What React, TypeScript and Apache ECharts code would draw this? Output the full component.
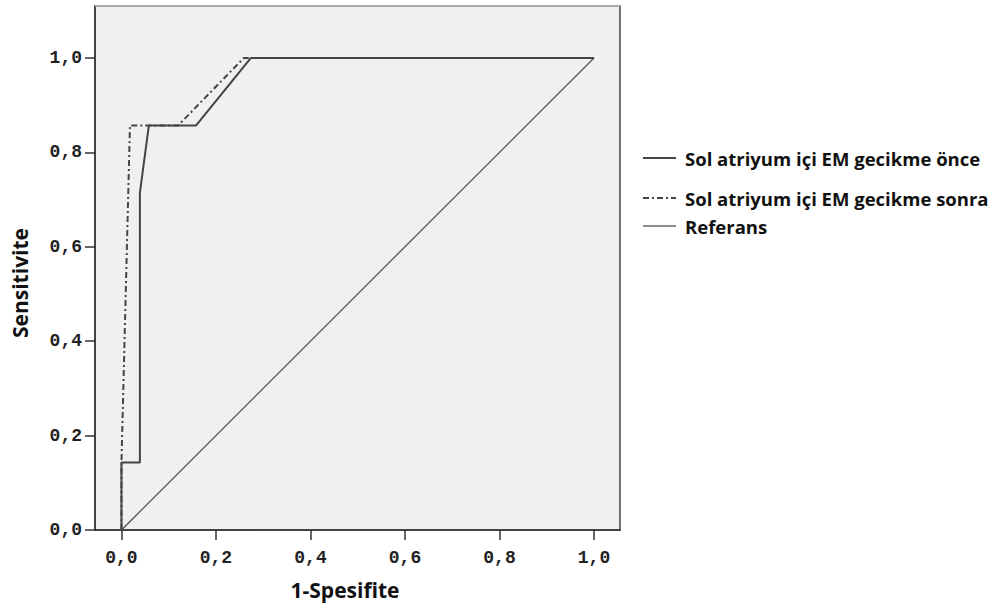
import React, { useEffect, useRef } from "react";
import * as echarts from "echarts";

const tickValues = [0, 0.2, 0.4, 0.6, 0.8, 1.0];
const onceX = [0, 0, 0.039, 0.039, 0.058, 0.158, 0.274, 1.0];
const onceY = [0, 0.143, 0.143, 0.714, 0.857, 0.857, 1.0, 1.0];
const sonraX = [0, 0, 0.018, 0.12, 0.259, 1.0];
const sonraY = [0, 0.143, 0.857, 0.857, 1.0, 1.0];
const refX = [0, 1];
const refY = [0, 1];
const seriesNames = ["Sol atriyum içi EM gecikme önce", "Sol atriyum içi EM gecikme sonra", "Referans"];
const xTitle = "1-Spesifite";
const yTitle = "Sensitivite";

const zip = (xs: number[], ys: number[]) => xs.map((x, i) => [x, ys[i]]);
const fmt = (v: number) => v.toFixed(1).replace(".", ",");

export default function App() {
  const ref = useRef<HTMLDivElement>(null);
  useEffect(() => {
    const chart = echarts.init(ref.current!, null, { renderer: "svg" });
    const labelStyle = {
      fontFamily: "Liberation Mono",
      fontWeight: "bold" as const,
      fontSize: 18,
      color: "#222",
    };
    const legendFont = { fontFamily: "Open Sans", fontWeight: "bold", fontSize: 18.5, fill: "#111" };
    const titleFont = { fontFamily: "Open Sans", fontWeight: "bold", fontSize: 21, fill: "#111" };
    const dash = [6, 3, 2, 3];
    chart.setOption({
      animation: false,
      grid: {
        left: 95,
        top: 6,
        width: 525,
        height: 524,
        show: true,
        backgroundColor: "#f0f0f0",
        borderColor: "#444",
        borderWidth: 1.5,
      },
      xAxis: {
        type: "value",
        min: -0.056,
        max: 1.055,
        splitLine: { show: false },
        axisLine: { show: true, onZero: false, lineStyle: { color: "#333", width: 1.5 } },
        axisTick: { show: true, length: 10, customValues: tickValues, lineStyle: { color: "#333", width: 1.5 } },
        axisLabel: { ...labelStyle, margin: 19, customValues: tickValues, formatter: fmt },
      },
      yAxis: {
        type: "value",
        min: 0,
        max: 1.11,
        splitLine: { show: false },
        axisLine: { show: true, onZero: false, lineStyle: { color: "#333", width: 1.5 } },
        axisTick: { show: true, length: 10, customValues: tickValues, lineStyle: { color: "#333", width: 1.5 } },
        axisLabel: { ...labelStyle, margin: 13, customValues: tickValues, formatter: fmt },
      },
      series: [
        {
          name: seriesNames[2],
          type: "line",
          data: zip(refX, refY),
          symbol: "none",
          lineStyle: { color: "#555", width: 1.3 },
        },
        {
          name: seriesNames[1],
          type: "line",
          data: zip(sonraX, sonraY),
          symbol: "none",
          lineStyle: { color: "#444", width: 2, type: dash },
        },
        {
          name: seriesNames[0],
          type: "line",
          data: zip(onceX, onceY),
          symbol: "none",
          lineStyle: { color: "#444", width: 2 },
        },
      ],
      graphic: [
        { type: "line", shape: { x1: 95, y1: 6, x2: 620, y2: 6 }, style: { stroke: "#a8a8a8", lineWidth: 2 }, z: 100 },
        { type: "line", shape: { x1: 643, y1: 158, x2: 676, y2: 158 }, style: { stroke: "#444", lineWidth: 2 } },
        { type: "text", x: 685, y: 158, style: { ...legendFont, text: seriesNames[0], textVerticalAlign: "middle" } },
        { type: "line", shape: { x1: 643, y1: 198, x2: 676, y2: 198 }, style: { stroke: "#444", lineWidth: 2, lineDash: dash } },
        { type: "text", x: 685, y: 198, style: { ...legendFont, text: seriesNames[1], textVerticalAlign: "middle" } },
        { type: "line", shape: { x1: 643, y1: 226, x2: 676, y2: 226 }, style: { stroke: "#666", lineWidth: 1.5 } },
        { type: "text", x: 685, y: 226, style: { ...legendFont, text: seriesNames[2], textVerticalAlign: "middle" } },
        {
          type: "text",
          x: 345,
          y: 590,
          style: { ...titleFont, text: xTitle, textAlign: "center", textVerticalAlign: "middle" },
        },
        {
          type: "text",
          x: 20,
          y: 283,
          rotation: Math.PI / 2,
          style: { ...titleFont, text: yTitle, textAlign: "center", textVerticalAlign: "middle" },
        },
      ],
    });
    return () => chart.dispose();
  }, []);
  return <div ref={ref} style={{ width: 1006, height: 607, position: "absolute", left: 0, top: 0 }} />;
}
